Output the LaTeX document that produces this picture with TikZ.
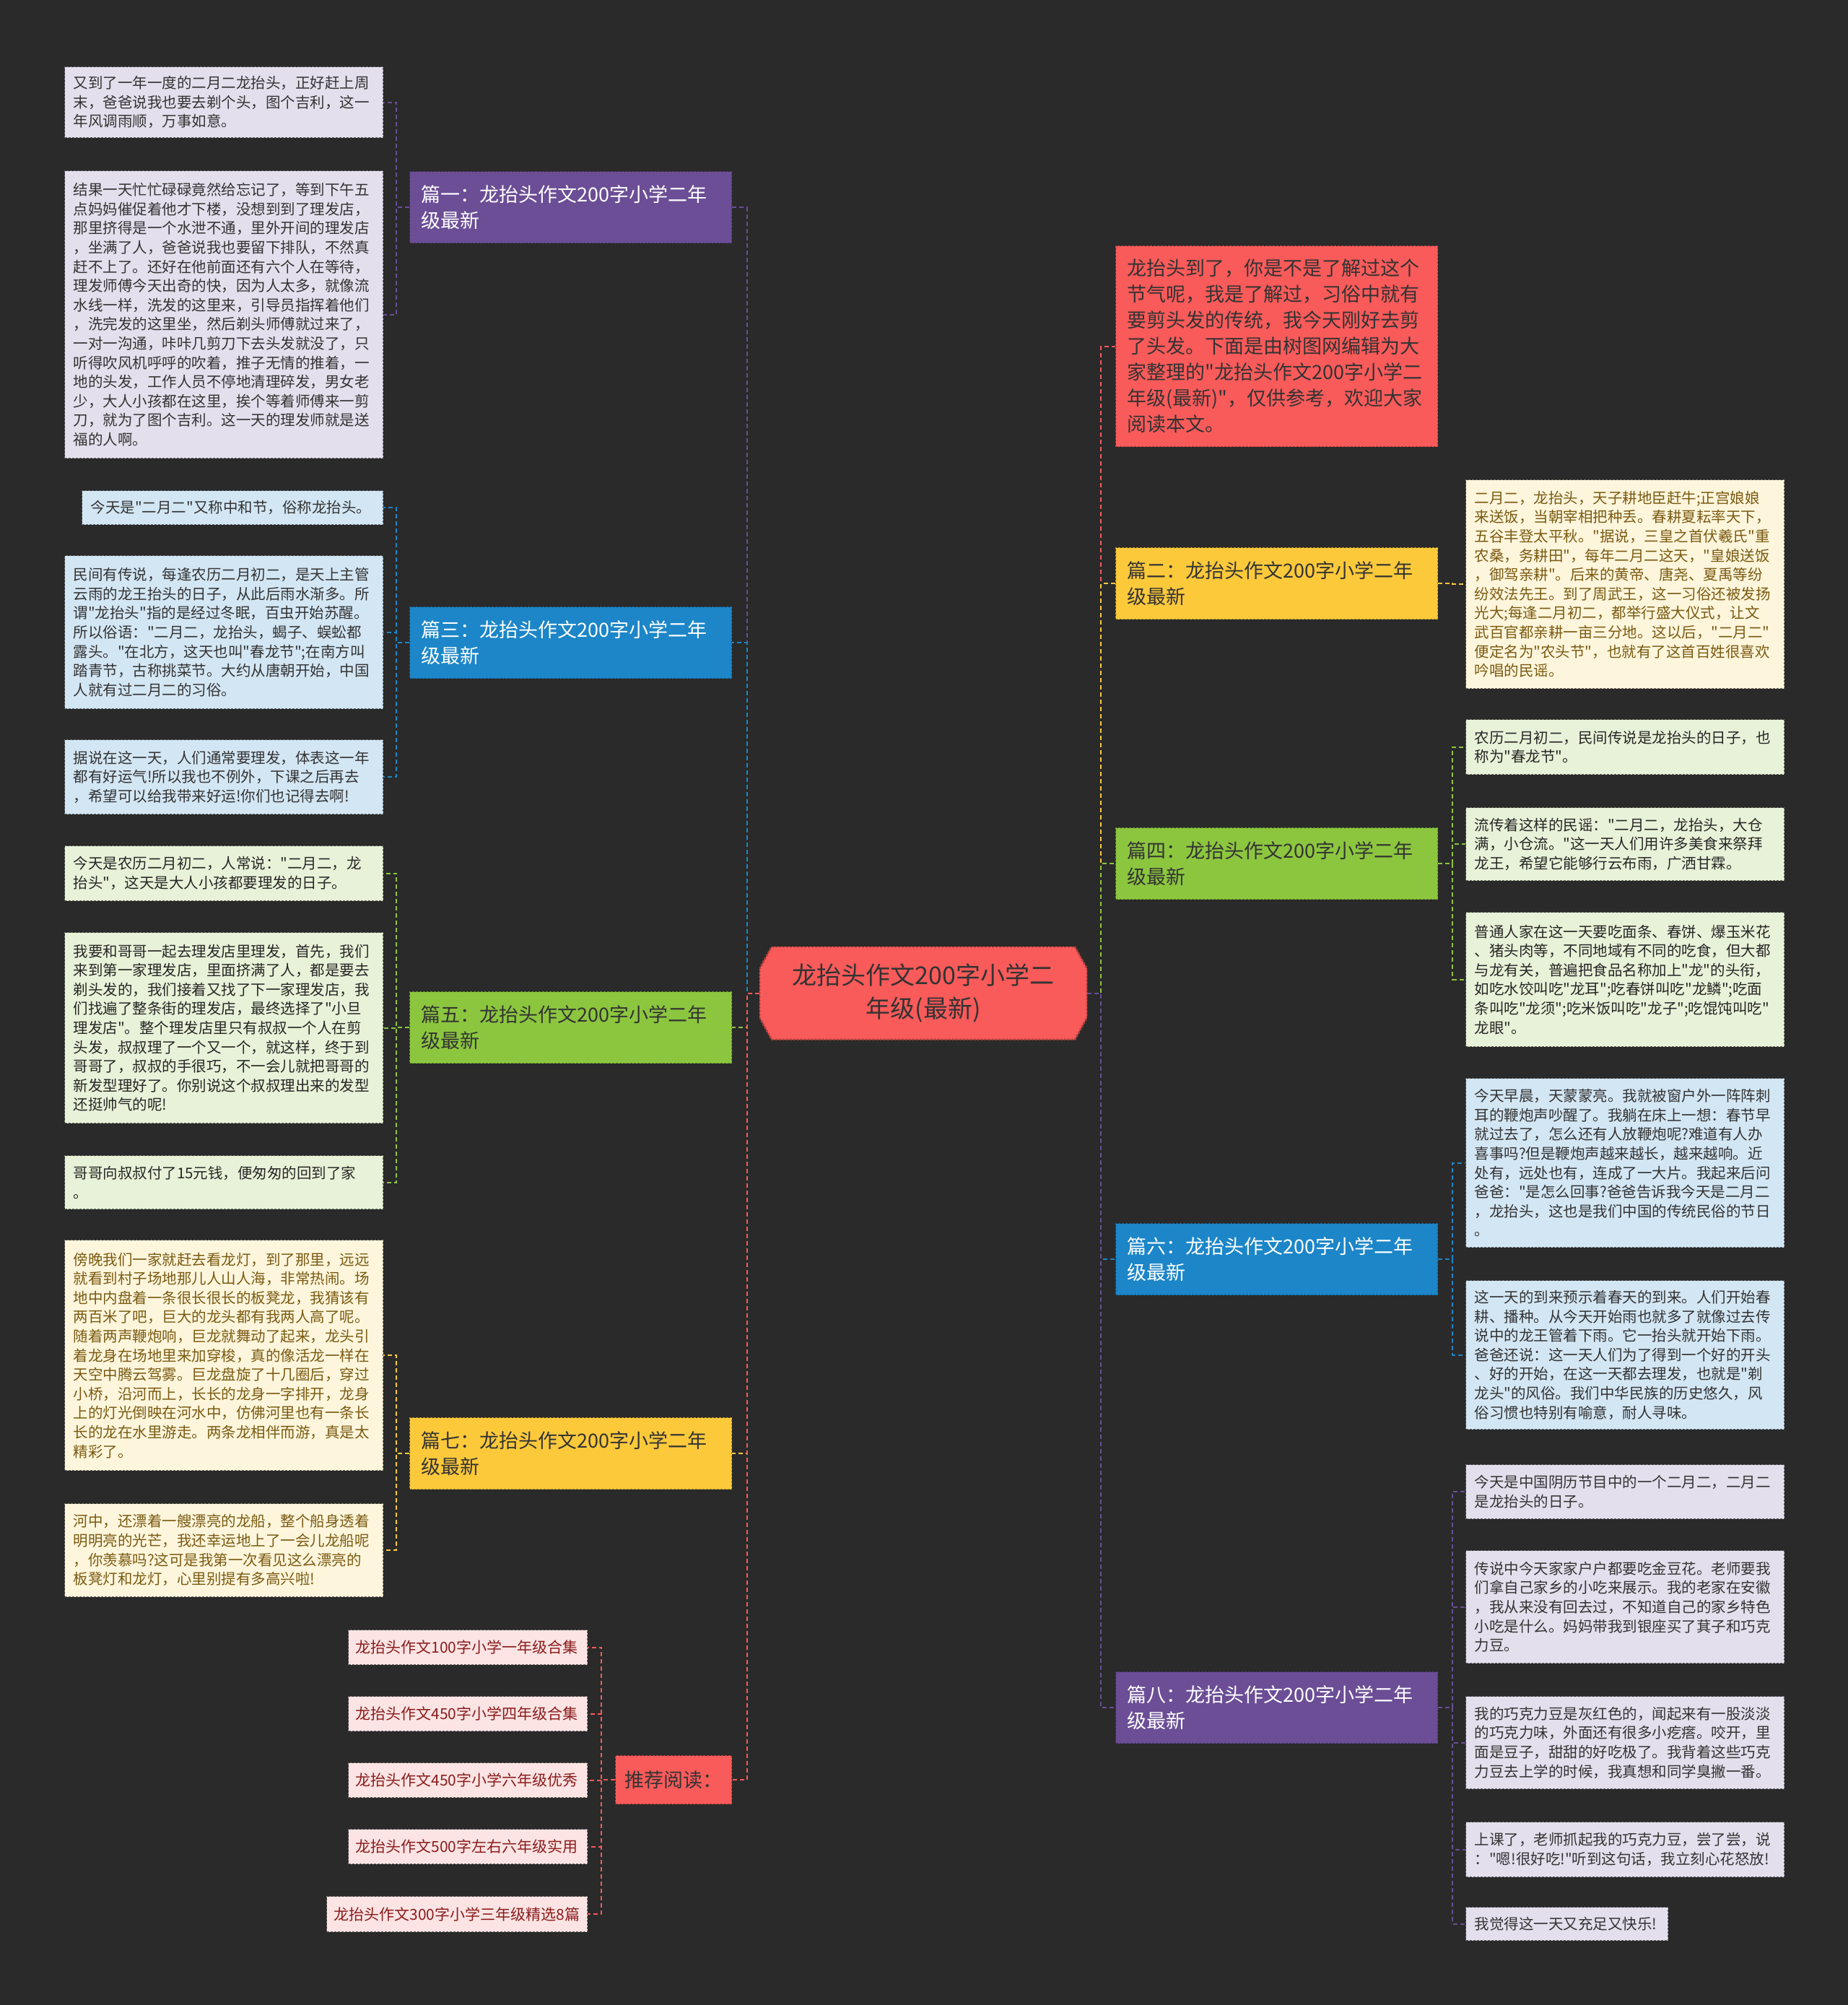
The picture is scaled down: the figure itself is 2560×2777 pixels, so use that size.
\documentclass[tikz,border=0pt]{standalone}
\usepackage{fontspec}
\newfontfamily\cjk{Noto Sans CJK SC}
\usetikzlibrary{positioning}

\definecolor{bgdark}{HTML}{2A2A2A}
\definecolor{mpurple}{HTML}{6B4E96}
\definecolor{mblue}{HTML}{1C86C8}
\definecolor{mgreen}{HTML}{8CC63F}
\definecolor{myellow}{HTML}{FCC93B}
\definecolor{mred}{HTML}{F95A5A}
\definecolor{lpurple}{HTML}{E3DFEC}
\definecolor{lblue}{HTML}{D3E6F4}
\definecolor{lgreen}{HTML}{E8F2D8}
\definecolor{lyellow}{HTML}{FEF6DC}
\definecolor{lpink}{HTML}{FCE4E4}
\definecolor{brownt}{HTML}{7A5A12}
\definecolor{redt}{HTML}{8A1C1C}
\definecolor{darkt}{HTML}{333333}

\newcommand{\leaffont}{\cjk\fontsize{20.5pt}{26.6pt}\selectfont}
\newcommand{\branchfont}{\cjk\fontsize{27pt}{35.5pt}\selectfont}
\newcommand{\centrefont}{\cjk\fontsize{34pt}{46pt}\selectfont}

\begin{document}
\begin{tikzpicture}[x=1pt, y=-1pt,
    box/.style={rectangle, anchor=north west, inner sep=0pt, line width=1.3pt, dash pattern=on 3pt off 2pt},
    leaf/.style={box, minimum width=441pt, text width=417pt, align=left, font=\leaffont},
    leafpurple/.style={leaf, fill=lpurple, draw=lpurple!45!black, text=darkt},
    leafblue/.style={leaf, fill=lblue, draw=lblue!45!black, text=darkt},
    leafgreen/.style={leaf, fill=lgreen, draw=lgreen!45!black, text=black!85},
    leafyellow/.style={leaf, fill=lyellow, draw=lyellow!45!black, text=brownt},
    leafpink/.style={box, fill=lpink, draw=lpink!45!black, text=redt, align=left, font=\cjk\fontsize{21pt}{26pt}\selectfont, minimum height=48pt},
    branch/.style={box, minimum width=446pt, minimum height=99pt, text width=414pt, align=left, font=\branchfont, draw=#1!70!black, fill=#1},
    centre/.style={rectangle, minimum width=454pt, minimum height=129pt, inner sep=0pt, align=center, font=\centrefont, text=darkt,
        path picture={\fill[mred, draw=mred!70!black, line width=2.6pt, dash pattern=on 3pt off 2pt]
            ([xshift=17pt]path picture bounding box.north west) -- ([xshift=-17pt]path picture bounding box.north east)
            -- ([yshift=-31pt]path picture bounding box.north east) -- ([yshift=31pt]path picture bounding box.south east)
            -- ([xshift=-17pt]path picture bounding box.south east) -- ([xshift=17pt]path picture bounding box.south west)
            -- ([yshift=31pt]path picture bounding box.south west) -- ([yshift=-31pt]path picture bounding box.north west) -- cycle;}},
    conn/.style={draw=#1, line width=2pt, dash pattern=on 6pt off 4pt}]

    \fill[bgdark] (0,0) rectangle (2560,2777);
    \useasboundingbox (0,0) rectangle (2560,2777);

    % centre
    \node (centre) [centre] at (1279,1375.5) {龙抬头作文200字小学二\\年级(最新)};

    % left branches
    \node (b1) [branch=mpurple, text=white] at (567,237) {篇一：龙抬头作文200字小学二年\\级最新};
    \node (b3) [branch=mblue, text=white] at (567,840) {篇三：龙抬头作文200字小学二年\\级最新};
    \node (b5) [branch=mgreen, text=darkt] at (567,1373) {篇五：龙抬头作文200字小学二年\\级最新};
    \node (b7) [branch=myellow, text=darkt] at (567,1963) {篇七：龙抬头作文200字小学二年\\级最新};
    \node (rec) [branch=mred, text=darkt, minimum width=161pt, minimum height=67pt, text width=135pt] at (852,2431) {推荐阅读：};

    % right branches
    \node (intro) [branch=mred, text=darkt, minimum height=278pt, font=\cjk\fontsize{27pt}{36pt}\selectfont] at (1545,340) {龙抬头到了，你是不是了解过这个\\节气呢，我是了解过，习俗中就有\\要剪头发的传统，我今天刚好去剪\\了头发。下面是由树图网编辑为大\\家整理的"龙抬头作文200字小学二\\年级(最新)"，仅供参考，欢迎大家\\阅读本文。};
    \node (r2) [branch=myellow, text=darkt] at (1545,758) {篇二：龙抬头作文200字小学二年\\级最新};
    \node (r4) [branch=mgreen, text=darkt] at (1545,1146) {篇四：龙抬头作文200字小学二年\\级最新};
    \node (r6) [branch=mblue, text=white] at (1545,1694) {篇六：龙抬头作文200字小学二年\\级最新};
    \node (r8) [branch=mpurple, text=white] at (1545,2315) {篇八：龙抬头作文200字小学二年\\级最新};

    % left leaves
    \node (l1a) [leafpurple, minimum height=98pt] at (89,92) {又到了一年一度的二月二龙抬头，正好赶上周\\末，爸爸说我也要去剃个头，图个吉利，这一\\年风调雨顺，万事如意。};
    \node (l1b) [leafpurple, minimum height=398pt] at (89,236) {结果一天忙忙碌碌竟然给忘记了，等到下午五\\点妈妈催促着他才下楼，没想到到了理发店，\\那里挤得是一个水泄不通，里外开间的理发店\\，坐满了人，爸爸说我也要留下排队，不然真\\赶不上了。还好在他前面还有六个人在等待，\\理发师傅今天出奇的快，因为人太多，就像流\\水线一样，洗发的这里来，引导员指挥着他们\\，洗完发的这里坐，然后剃头师傅就过来了，\\一对一沟通，咔咔几剪刀下去头发就没了，只\\听得吹风机呼呼的吹着，推子无情的推着，一\\地的头发，工作人员不停地清理碎发，男女老\\少，大人小孩都在这里，挨个等着师傅来一剪\\刀，就为了图个吉利。这一天的理发师就是送\\福的人啊。};
    \node (l3a) [leafblue, minimum width=417pt, text width=393pt, minimum height=47pt] at (113,679) {今天是"二月二"又称中和节，俗称龙抬头。};
    \node (l3b) [leafblue, minimum height=212pt] at (89,769) {民间有传说，每逢农历二月初二，是天上主管\\云雨的龙王抬头的日子，从此后雨水渐多。所\\谓"龙抬头"指的是经过冬眠，百虫开始苏醒。\\所以俗语："二月二，龙抬头，蝎子、蜈蚣都\\露头。"在北方，这天也叫"春龙节";在南方叫\\踏青节，古称挑菜节。大约从唐朝开始，中国\\人就有过二月二的习俗。};
    \node (l3c) [leafblue, minimum height=103pt] at (89,1024) {据说在这一天，人们通常要理发，体表这一年\\都有好运气!所以我也不例外，下课之后再去\\，希望可以给我带来好运!你们也记得去啊!};
    \node (l5a) [leafgreen, minimum height=76pt] at (89,1171) {今天是农历二月初二，人常说："二月二，龙\\抬头"，这天是大人小孩都要理发的日子。};
    \node (l5b) [leafgreen, minimum height=264pt] at (89,1291) {我要和哥哥一起去理发店里理发，首先，我们\\来到第一家理发店，里面挤满了人，都是要去\\剃头发的，我们接着又找了下一家理发店，我\\们找遍了整条街的理发店，最终选择了"小旦\\理发店"。整个理发店里只有叔叔一个人在剪\\头发，叔叔理了一个又一个，就这样，终于到\\哥哥了，叔叔的手很巧，不一会儿就把哥哥的\\新发型理好了。你别说这个叔叔理出来的发型\\还挺帅气的呢!};
    \node (l5c) [leafgreen, minimum height=74pt] at (89,1600) {哥哥向叔叔付了15元钱，便匆匆的回到了家\\。};
    \node (l7a) [leafyellow, minimum height=319pt] at (89,1717) {傍晚我们一家就赶去看龙灯，到了那里，远远\\就看到村子场地那儿人山人海，非常热闹。场\\地中内盘着一条很长很长的板凳龙，我猜该有\\两百米了吧，巨大的龙头都有我两人高了呢。\\随着两声鞭炮响，巨龙就舞动了起来，龙头引\\着龙身在场地里来加穿梭，真的像活龙一样在\\天空中腾云驾雾。巨龙盘旋了十几圈后，穿过\\小桥，沿河而上，长长的龙身一字排开，龙身\\上的灯光倒映在河水中，仿佛河里也有一条长\\长的龙在水里游走。两条龙相伴而游，真是太\\精彩了。};
    \node (l7b) [leafyellow, minimum height=129pt] at (89,2082) {河中，还漂着一艘漂亮的龙船，整个船身透着\\明明亮的光芒，我还幸运地上了一会儿龙船呢\\，你羡慕吗?这可是我第一次看见这么漂亮的\\板凳灯和龙灯，心里别提有多高兴啦!};

    % recommended reading
    \node (k1) [leafpink, minimum width=331pt, text width=311pt] at (482,2257) {龙抬头作文100字小学一年级合集};
    \node (k2) [leafpink, minimum width=331pt, text width=311pt] at (482,2349) {龙抬头作文450字小学四年级合集};
    \node (k3) [leafpink, minimum width=331pt, text width=311pt] at (482,2441) {龙抬头作文450字小学六年级优秀};
    \node (k4) [leafpink, minimum width=331pt, text width=311pt] at (482,2533) {龙抬头作文500字左右六年级实用};
    \node (k5) [leafpink, minimum width=361pt, text width=341pt, minimum height=49pt] at (452,2626) {龙抬头作文300字小学三年级精选8篇};

    % right leaves
    \node (m2) [leafyellow, minimum height=289pt] at (2030,664) {二月二，龙抬头，天子耕地臣赶牛;正宫娘娘\\来送饭，当朝宰相把种丢。春耕夏耘率天下，\\五谷丰登太平秋。"据说，三皇之首伏羲氏"重\\农桑，务耕田"，每年二月二这天，"皇娘送饭\\，御驾亲耕"。后来的黄帝、唐尧、夏禹等纷\\纷效法先王。到了周武王，这一习俗还被发扬\\光大;每逢二月初二，都举行盛大仪式，让文\\武百官都亲耕一亩三分地。这以后，"二月二"\\便定名为"农头节"，也就有了这首百姓很喜欢\\吟唱的民谣。};
    \node (m4a) [leafgreen, minimum height=76pt] at (2030,996) {农历二月初二，民间传说是龙抬头的日子，也\\称为"春龙节"。};
    \node (m4b) [leafgreen, minimum height=101pt] at (2030,1118) {流传着这样的民谣："二月二，龙抬头，大仓\\满，小仓流。"这一天人们用许多美食来祭拜\\龙王，希望它能够行云布雨，广洒甘霖。};
    \node (m4c) [leafgreen, minimum height=186pt] at (2030,1263) {普通人家在这一天要吃面条、春饼、爆玉米花\\、猪头肉等，不同地域有不同的吃食，但大都\\与龙有关，普遍把食品名称加上"龙"的头衔，\\如吃水饺叫吃"龙耳";吃春饼叫吃"龙鳞";吃面\\条叫吃"龙须";吃米饭叫吃"龙子";吃馄饨叫吃"\\龙眼"。};
    \node (m6a) [leafblue, minimum height=234pt] at (2030,1493) {今天早晨，天蒙蒙亮。我就被窗户外一阵阵刺\\耳的鞭炮声吵醒了。我躺在床上一想：春节早\\就过去了，怎么还有人放鞭炮呢?难道有人办\\喜事吗?但是鞭炮声越来越长，越来越响。近\\处有，远处也有，连成了一大片。我起来后问\\爸爸："是怎么回事?爸爸告诉我今天是二月二\\，龙抬头，这也是我们中国的传统民俗的节日\\。};
    \node (m6b) [leafblue, minimum height=206pt] at (2030,1773) {这一天的到来预示着春天的到来。人们开始春\\耕、播种。从今天开始雨也就多了就像过去传\\说中的龙王管着下雨。它一抬头就开始下雨。\\爸爸还说：这一天人们为了得到一个好的开头\\、好的开始，在这一天都去理发，也就是"剃\\龙头"的风俗。我们中华民族的历史悠久，风\\俗习惯也特别有喻意，耐人寻味。};
    \node (m8a) [leafpurple, minimum height=75pt] at (2030,2028) {今天是中国阴历节目中的一个二月二，二月二\\是龙抬头的日子。};
    \node (m8b) [leafpurple, minimum height=156pt] at (2030,2147) {传说中今天家家户户都要吃金豆花。老师要我\\们拿自己家乡的小吃来展示。我的老家在安徽\\，我从来没有回去过，不知道自己的家乡特色\\小吃是什么。妈妈带我到银座买了萁子和巧克\\力豆。};
    \node (m8c) [leafpurple, minimum height=128pt] at (2030,2349) {我的巧克力豆是灰红色的，闻起来有一股淡淡\\的巧克力味，外面还有很多小疙瘩。咬开，里\\面是豆子，甜甜的好吃极了。我背着这些巧克\\力豆去上学的时候，我真想和同学臭撇一番。};
    \node (m8d) [leafpurple, minimum height=76pt] at (2030,2523) {上课了，老师抓起我的巧克力豆，尝了尝，说\\："嗯!很好吃!"听到这句话，我立刻心花怒放!};
    \node (m8e) [leafpurple, minimum width=280pt, text width=256pt, minimum height=46pt] at (2030,2641) {我觉得这一天又充足又快乐!};

    % centre to branches
    \draw [conn=mpurple] (centre.west) -- ++(-17,0) |- (b1.east);
    \draw [conn=mblue] (centre.west) -- ++(-17,0) |- (b3.east);
    \draw [conn=mgreen] (centre.west) -- ++(-17,0) |- (b5.east);
    \draw [conn=myellow] (centre.west) -- ++(-17,0) |- (b7.east);
    \draw [conn=mred] (centre.west) -- ++(-17,0) |- (rec.east);
    \draw [conn=mred] (centre.east) -- ++(19,0) |- (intro.west);
    \draw [conn=myellow] (centre.east) -- ++(19,0) |- (r2.west);
    \draw [conn=mgreen] (centre.east) -- ++(19,0) |- (r4.west);
    \draw [conn=mblue] (centre.east) -- ++(19,0) |- (r6.west);
    \draw [conn=mpurple] (centre.east) -- ++(19,0) |- (r8.west);

    % branches to leaves
    \draw [conn=mpurple] (b1.west) -- ++(-18,0) |- (l1a.east);
    \draw [conn=mpurple] (b1.west) -- ++(-18,0) |- (l1b.east);
    \draw [conn=mblue] (b3.west) -- ++(-18,0) |- (l3a.east);
    \draw [conn=mblue] (b3.west) -- ++(-18,0) |- (l3b.east);
    \draw [conn=mblue] (b3.west) -- ++(-18,0) |- (l3c.east);
    \draw [conn=mgreen] (b5.west) -- ++(-18,0) |- (l5a.east);
    \draw [conn=mgreen] (b5.west) -- ++(-18,0) |- (l5b.east);
    \draw [conn=mgreen] (b5.west) -- ++(-18,0) |- (l5c.east);
    \draw [conn=myellow] (b7.west) -- ++(-18,0) |- (l7a.east);
    \draw [conn=myellow] (b7.west) -- ++(-18,0) |- (l7b.east);
    \draw [conn=mred] (rec.west) -- ++(-19,0) |- (k1.east);
    \draw [conn=mred] (rec.west) -- ++(-19,0) |- (k2.east);
    \draw [conn=mred] (rec.west) -- ++(-19,0) |- (k3.east);
    \draw [conn=mred] (rec.west) -- ++(-19,0) |- (k4.east);
    \draw [conn=mred] (rec.west) -- ++(-19,0) |- (k5.east);
    \draw [conn=myellow] (r2.east) -- ++(20,0) |- (m2.west);
    \draw [conn=mgreen] (r4.east) -- ++(20,0) |- (m4a.west);
    \draw [conn=mgreen] (r4.east) -- ++(20,0) |- (m4b.west);
    \draw [conn=mgreen] (r4.east) -- ++(20,0) |- (m4c.west);
    \draw [conn=mblue] (r6.east) -- ++(20,0) |- (m6a.west);
    \draw [conn=mblue] (r6.east) -- ++(20,0) |- (m6b.west);
    \draw [conn=mpurple] (r8.east) -- ++(20,0) |- (m8a.west);
    \draw [conn=mpurple] (r8.east) -- ++(20,0) |- (m8b.west);
    \draw [conn=mpurple] (r8.east) -- ++(20,0) |- (m8c.west);
    \draw [conn=mpurple] (r8.east) -- ++(20,0) |- (m8d.west);
    \draw [conn=mpurple] (r8.east) -- ++(20,0) |- (m8e.west);
\end{tikzpicture}
\end{document}
